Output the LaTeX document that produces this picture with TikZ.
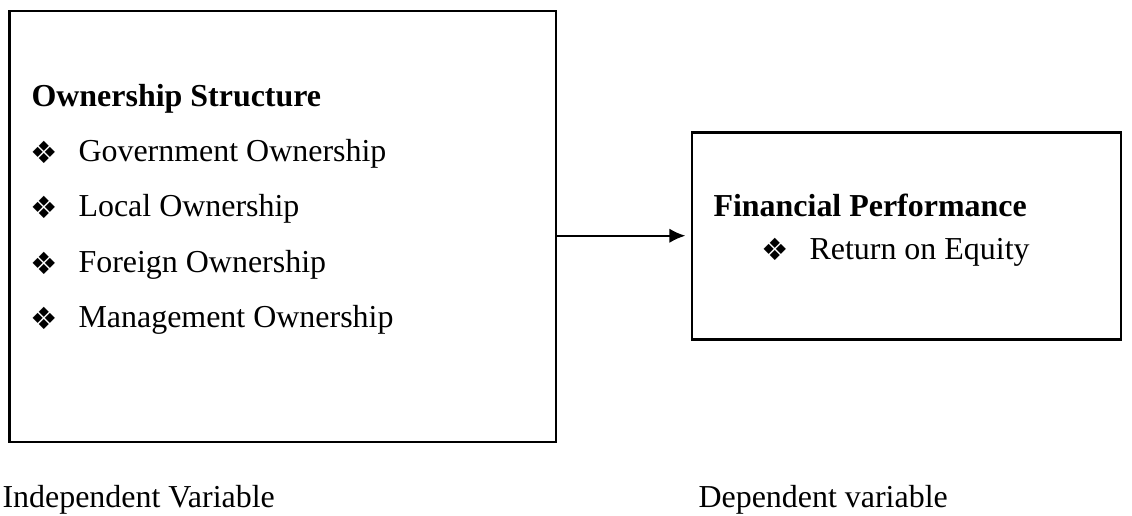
\documentclass[tikz,border=0pt]{standalone}
\usepackage{fontspec}
\setmainfont{Liberation Serif}
\newfontfamily\dingfont{DejaVu Sans}
\usetikzlibrary{arrows.meta}
\newcommand{\diabullet}{{\dingfont\fontsize{11.5}{12}\selectfont ❖}}

\begin{document}
\begin{tikzpicture}[x=0.3756pt, y=-0.3756pt,
  every node/.style={font=\fontsize{12}{14}\selectfont, inner sep=0pt},
  varbox/.style={draw, line width=1pt},
  lbl/.style={anchor=base west},
  head/.style={anchor=base west, font=\fontsize{12}{14}\selectfont\bfseries}]
\useasboundingbox (0,0) rectangle (1132,516);

\node[varbox, minimum width=205.3pt, minimum height=161.9pt] (indep) at (282.75,226.5) {};
\node[varbox, minimum width=161.1pt, minimum height=77.75pt] (dep) at (906.5,235.75) {};

% independent variable box
\node[head] (ownhead) at (31,107) {Ownership Structure};
\node (b1) at (44.5,152) {\diabullet};
\node[lbl] (own1) at (78,162) {Government Ownership};
\node (b2) at (44.5,207) {\diabullet};
\node[lbl] (own2) at (78,217) {Local Ownership};
\node (b3) at (44.5,263) {\diabullet};
\node[lbl] (own3) at (78,273) {Foreign Ownership};
\node (b4) at (44.5,318) {\diabullet};
\node[lbl] (own4) at (78,328) {Management Ownership};

% dependent variable box
\node[head] (fphead) at (713,217) {Financial Performance};
\node (b5) at (775.5,249) {\diabullet};
\node[lbl] (roe) at (809,260) {Return on Equity};

\node[lbl] (indlbl) at (2,508) {Independent Variable};
\node[lbl] (deplbl) at (698,508) {Dependent variable};

\draw[line width=0.75pt, shorten >=2pt, -{Latex[length=6pt,width=5.4pt]}] (indep.east |- dep.west) -- (dep.west);
\end{tikzpicture}
\end{document}
